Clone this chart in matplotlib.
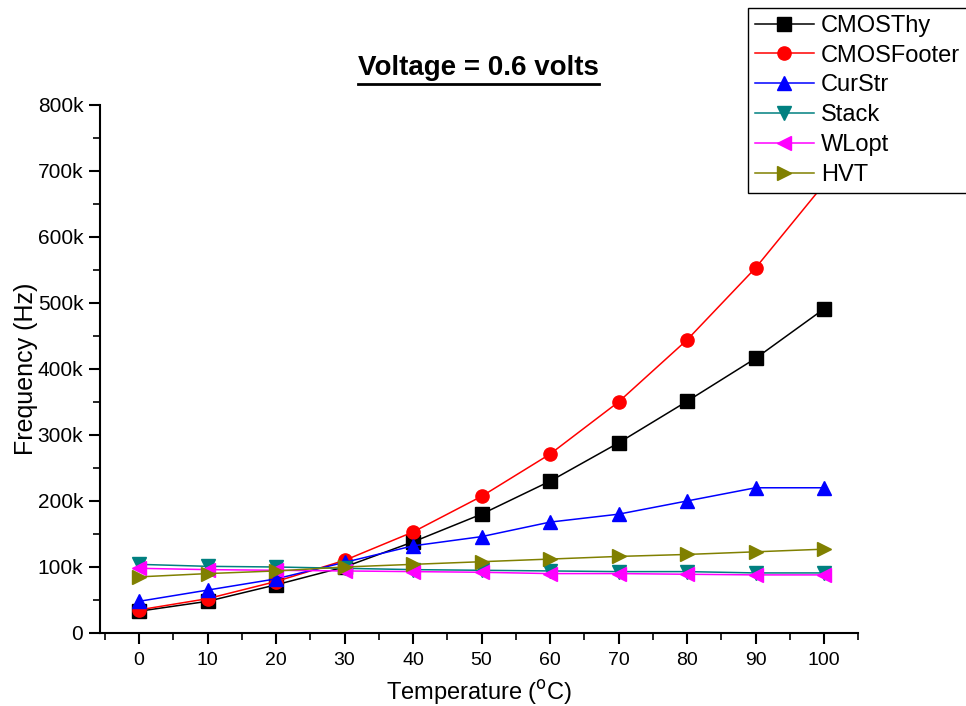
import matplotlib
matplotlib.use('Agg')
import matplotlib.pyplot as plt
from matplotlib.ticker import MultipleLocator, FuncFormatter
from matplotlib.lines import Line2D

plt.rcParams['font.family'] = ['Liberation Sans', 'DejaVu Sans']

# Data
temperature = [0, 10, 20, 30, 40, 50, 60, 70, 80, 90, 100]
cmos_thy = [33e3, 48e3, 73e3, 100e3, 138e3, 180e3, 230e3, 288e3, 351e3, 416e3, 491e3]
cmos_footer = [35e3, 52e3, 78e3, 110e3, 153e3, 207e3, 271e3, 350e3, 444e3, 553e3, 680e3]
cur_str = [48e3, 65e3, 82e3, 107e3, 132e3, 146e3, 168e3, 180e3, 200e3, 220e3, 220e3]
stack = [104e3, 101e3, 100e3, 98e3, 96e3, 95e3, 94e3, 93e3, 93e3, 91e3, 91e3]
wlopt = [98e3, 96e3, 95e3, 94e3, 93e3, 92e3, 90e3, 90e3, 89e3, 88e3, 88e3]
hvt = [85e3, 90e3, 94e3, 100e3, 104e3, 108e3, 112e3, 116e3, 119e3, 123e3, 127e3]

series_names = ['CMOSThy', 'CMOSFooter', 'CurStr', 'Stack', 'WLopt', 'HVT']
series_values = [cmos_thy, cmos_footer, cur_str, stack, wlopt, hvt]
series_colors = ['black', '#ff0000', '#0000ff', '#008080', '#ff00ff', '#808000']
series_markers = ['s', 'o', '^', 'v', '<', '>']

fig = plt.figure(figsize=(9.66, 7.06), dpi=100)
ax = fig.add_axes([0.1035, 0.1034, 0.785, 0.748])

for name, vals, col, mk in zip(series_names, series_values, series_colors, series_markers):
    ax.plot(temperature, vals, color=col, marker=mk, markersize=9.5, linewidth=1.1,
            label=name, clip_on=False, zorder=3)

ax.set_xlim(-5.7, 105)
ax.set_ylim(0, 800e3)

# Axis styling
ax.spines['top'].set_visible(False)
ax.spines['right'].set_visible(False)
ax.spines['left'].set_linewidth(1.5)
ax.spines['bottom'].set_linewidth(1.5)

ax.xaxis.set_major_locator(MultipleLocator(10))
ax.xaxis.set_minor_locator(MultipleLocator(5))
ax.yaxis.set_major_locator(MultipleLocator(100e3))
ax.yaxis.set_minor_locator(MultipleLocator(50e3))
ax.yaxis.set_major_formatter(FuncFormatter(lambda v, p: '0' if v == 0 else f'{int(v / 1000)}k'))
ax.tick_params(which='major', direction='out', length=8, width=1.5, labelsize=14, pad=6)
ax.tick_params(which='minor', direction='out', length=5, width=1.2)
ax.tick_params(axis='y', which='major', labelsize=15, pad=4)

ax.set_xlabel(r'Temperature ($^{\mathrm{o}}$C)', fontsize=17, labelpad=6)
ax.set_ylabel('Frequency (Hz)', fontsize=18, labelpad=0)

# Title with underline
title = fig.text(0.495, 0.903, 'Voltage = 0.6 volts', fontsize=20, fontweight='bold',
                 ha='center', va='center')
fig.canvas.draw()
bb = title.get_window_extent().transformed(fig.transFigure.inverted())
fig.add_artist(Line2D([bb.x0, bb.x1], [bb.y0 - 0.003, bb.y0 - 0.003],
                      color='black', linewidth=2.0, transform=fig.transFigure))

# Legend in the top-right corner, partially outside the axes, hiding the last red point
leg = fig.legend(loc='upper left', bbox_to_anchor=(0.774, 0.989), fontsize=17,
                 frameon=True, fancybox=False, edgecolor='black', framealpha=1,
                 handlelength=2.5, labelspacing=0.33, borderpad=0.3, handletextpad=0.3,
                 borderaxespad=0)
leg.get_frame().set_linewidth(1.0)

fig.savefig('out.png', dpi=100, facecolor='white')
